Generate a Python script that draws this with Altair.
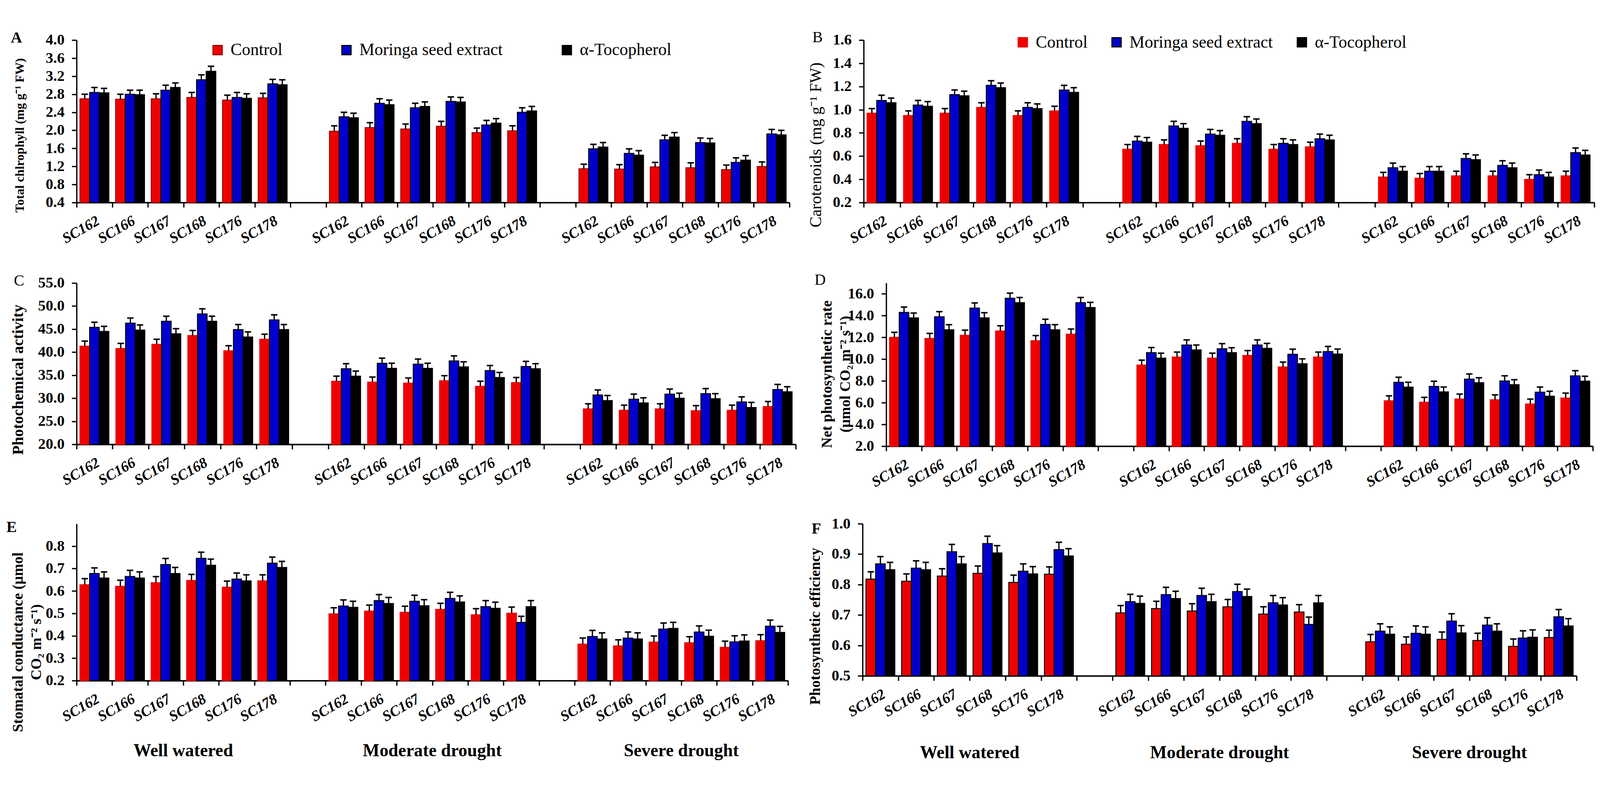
import altair as alt
import pandas as pd

FONT = "Liberation Serif"

genotypes = ["SC162", "SC166", "SC167", "SC168", "SC176", "SC178"]
conditions = ["Well watered", "Moderate drought", "Severe drought"]
treatments = ["Control", "Moringa seed extract", "α-Tocopherol"]
fills = ["#EE0000", "#0000CC", "#000000"]

# ---- Panel A: total chlorophyll (WW x6, MD x6, SD x6)
chl_control = [2.70, 2.69, 2.70, 2.73, 2.67, 2.72, 1.98, 2.06, 2.03, 2.09, 1.95, 1.99, 1.15, 1.14, 1.19, 1.17, 1.13, 1.20]
chl_moringa = [2.84, 2.80, 2.89, 3.12, 2.73, 3.03, 2.30, 2.60, 2.50, 2.64, 2.12, 2.40, 1.59, 1.49, 1.79, 1.73, 1.29, 1.92]
chl_toco = [2.83, 2.79, 2.95, 3.31, 2.71, 3.01, 2.28, 2.57, 2.53, 2.63, 2.16, 2.43, 1.63, 1.45, 1.85, 1.72, 1.34, 1.90]
chl_err_c = [0.10, 0.11, 0.11, 0.11, 0.11, 0.10, 0.12, 0.11, 0.11, 0.11, 0.10, 0.11, 0.10, 0.10, 0.10, 0.11, 0.10, 0.10]
chl_err_m = [0.11, 0.09, 0.11, 0.11, 0.11, 0.10, 0.10, 0.10, 0.10, 0.10, 0.10, 0.10, 0.10, 0.10, 0.10, 0.10, 0.10, 0.10]
chl_err_t = [0.10, 0.10, 0.10, 0.11, 0.10, 0.11, 0.10, 0.10, 0.10, 0.10, 0.10, 0.10, 0.10, 0.10, 0.10, 0.10, 0.10, 0.10]

# ---- Panel B: carotenoids
car_control = [0.97, 0.95, 0.97, 1.02, 0.95, 0.99, 0.66, 0.70, 0.69, 0.71, 0.66, 0.68, 0.42, 0.41, 0.43, 0.43, 0.40, 0.43]
car_moringa = [1.08, 1.04, 1.13, 1.21, 1.02, 1.17, 0.73, 0.86, 0.79, 0.90, 0.71, 0.75, 0.50, 0.47, 0.58, 0.52, 0.44, 0.63]
car_toco = [1.06, 1.03, 1.12, 1.19, 1.01, 1.15, 0.72, 0.84, 0.78, 0.88, 0.70, 0.74, 0.47, 0.47, 0.57, 0.50, 0.42, 0.61]
car_err_c = [0.04, 0.04, 0.04, 0.04, 0.04, 0.04, 0.04, 0.04, 0.04, 0.04, 0.04, 0.04, 0.04, 0.04, 0.04, 0.04, 0.04, 0.04]
car_err_m = [0.045, 0.04, 0.04, 0.04, 0.04, 0.04, 0.04, 0.04, 0.04, 0.04, 0.04, 0.04, 0.04, 0.04, 0.04, 0.04, 0.04, 0.04]
car_err_t = [0.04, 0.04, 0.04, 0.04, 0.04, 0.04, 0.04, 0.04, 0.04, 0.04, 0.04, 0.04, 0.04, 0.04, 0.04, 0.04, 0.04, 0.04]

# ---- Panel C: photochemical activity
pha_control = [41.3, 40.8, 41.7, 43.6, 40.3, 42.8, 33.7, 33.5, 33.3, 33.8, 32.6, 33.4, 27.7, 27.4, 27.7, 27.3, 27.4, 28.2]
pha_moringa = [45.4, 46.3, 46.7, 48.3, 44.9, 47.0, 36.4, 37.6, 37.4, 38.1, 36.0, 36.9, 30.7, 29.8, 30.9, 31.0, 29.2, 31.9]
pha_toco = [44.5, 44.8, 44.0, 46.7, 43.3, 44.9, 34.8, 36.5, 36.5, 36.8, 34.5, 36.4, 29.5, 29.0, 30.0, 29.9, 28.0, 31.4]
pha_err_c = [1.1, 1.1, 1.1, 1.1, 1.1, 1.1, 1.1, 1.1, 1.1, 1.1, 1.1, 1.1, 1.1, 1.1, 1.1, 1.1, 1.1, 1.1]
pha_err_m = [1.1, 1.1, 1.1, 1.1, 1.1, 1.1, 1.1, 1.1, 1.1, 1.1, 1.1, 1.1, 1.1, 1.1, 1.1, 1.1, 1.1, 1.1]
pha_err_t = [1.1, 1.1, 1.1, 1.1, 1.1, 1.1, 1.1, 1.1, 1.1, 1.1, 1.1, 1.1, 1.1, 1.1, 1.1, 1.1, 1.1, 1.1]

# ---- Panel D: net photosynthetic rate
pn_control = [12.0, 11.9, 12.2, 12.6, 11.7, 12.3, 9.46, 10.2, 10.1, 10.34, 9.28, 10.2, 6.18, 6.04, 6.34, 6.27, 5.88, 6.43]
pn_moringa = [14.3, 13.9, 14.7, 15.6, 13.2, 15.2, 10.6, 11.3, 10.96, 11.3, 10.45, 10.7, 7.87, 7.5, 8.17, 8.0, 6.97, 8.47]
pn_toco = [13.8, 12.7, 13.8, 15.2, 12.7, 14.75, 10.1, 10.85, 10.6, 11.0, 9.58, 10.48, 7.43, 6.99, 7.84, 7.66, 6.6, 7.98]
pn_err_c = [0.47, 0.47, 0.47, 0.47, 0.47, 0.47, 0.45, 0.45, 0.45, 0.45, 0.45, 0.45, 0.45, 0.45, 0.45, 0.45, 0.45, 0.45]
pn_err_m = [0.49, 0.47, 0.47, 0.47, 0.47, 0.47, 0.47, 0.47, 0.47, 0.47, 0.47, 0.47, 0.47, 0.47, 0.47, 0.47, 0.47, 0.47]
pn_err_t = [0.44, 0.47, 0.47, 0.47, 0.47, 0.47, 0.45, 0.45, 0.45, 0.45, 0.45, 0.45, 0.45, 0.45, 0.45, 0.45, 0.45, 0.45]

# ---- Panel E: stomatal conductance
gs_control = [0.628, 0.621, 0.637, 0.647, 0.617, 0.645, 0.498, 0.510, 0.505, 0.518, 0.494, 0.501, 0.363, 0.355, 0.372, 0.369, 0.349, 0.378]
gs_moringa = [0.678, 0.665, 0.718, 0.746, 0.653, 0.724, 0.533, 0.557, 0.554, 0.567, 0.530, 0.460, 0.397, 0.390, 0.430, 0.417, 0.373, 0.443]
gs_toco = [0.658, 0.658, 0.678, 0.715, 0.645, 0.705, 0.527, 0.544, 0.534, 0.551, 0.523, 0.530, 0.386, 0.386, 0.433, 0.398, 0.377, 0.415]
gs_err_c = [0.027, 0.027, 0.027, 0.027, 0.027, 0.027, 0.027, 0.027, 0.027, 0.027, 0.027, 0.027, 0.027, 0.027, 0.027, 0.027, 0.027, 0.027]
gs_err_m = [0.025, 0.027, 0.027, 0.027, 0.027, 0.027, 0.027, 0.027, 0.027, 0.027, 0.027, 0.027, 0.027, 0.027, 0.027, 0.027, 0.027, 0.027]
gs_err_t = [0.027, 0.027, 0.027, 0.027, 0.027, 0.027, 0.027, 0.027, 0.027, 0.027, 0.027, 0.027, 0.027, 0.027, 0.027, 0.027, 0.027, 0.027]

# ---- Panel F: photosynthetic efficiency
pe_control = [0.818, 0.811, 0.828, 0.837, 0.807, 0.834, 0.707, 0.721, 0.713, 0.727, 0.703, 0.710, 0.612, 0.604, 0.620, 0.616, 0.597, 0.626]
pe_moringa = [0.868, 0.854, 0.908, 0.935, 0.844, 0.915, 0.744, 0.767, 0.764, 0.777, 0.740, 0.669, 0.647, 0.640, 0.680, 0.667, 0.624, 0.694]
pe_toco = [0.849, 0.849, 0.868, 0.904, 0.835, 0.894, 0.738, 0.754, 0.744, 0.761, 0.733, 0.740, 0.637, 0.637, 0.641, 0.647, 0.627, 0.664]
pe_err_c = [0.024, 0.024, 0.024, 0.024, 0.024, 0.024, 0.024, 0.024, 0.024, 0.024, 0.024, 0.024, 0.024, 0.024, 0.024, 0.024, 0.024, 0.024]
pe_err_m = [0.024, 0.024, 0.024, 0.024, 0.024, 0.024, 0.024, 0.024, 0.024, 0.024, 0.024, 0.024, 0.024, 0.024, 0.024, 0.024, 0.024, 0.024]
pe_err_t = [0.024, 0.024, 0.024, 0.024, 0.024, 0.024, 0.024, 0.024, 0.024, 0.024, 0.024, 0.024, 0.024, 0.024, 0.024, 0.024, 0.024, 0.024]

# Band slots: genotype names made distinct per condition with trailing spaces
# (invisible), plus one empty slot between conditions.
slots = []
for ci in range(3):
    for g in genotypes:
        slots.append(g + " " * ci)
    if ci < 2:
        slots.append(" " * (ci + 4))
group_slots = [genotypes[3] + " " * ci for ci in range(3)]


def frame(vals3, errs3):
    rows = []
    for tname, vals, errs in zip(treatments, vals3, errs3):
        for i, (v, e) in enumerate(zip(vals, errs)):
            rows.append({"slot": genotypes[i % 6] + " " * (i // 6),
                         "treatment": tname, "value": v, "top": v + e})
    return pd.DataFrame(rows)


def panel(df, letter, ytitle, lo, hi, ticks, width, height, red_stroke,
          letter_x, letter_y, letter_bold, title_size, title_bold, title_x, title_y,
          legend_xy=None, legend_gap=150, groups_y=None):
    xscale = alt.Scale(domain=slots, paddingInner=0, paddingOuter=0)
    xaxis = alt.Axis(title=None, tickBand="extent", labelAngle=330, labelAlign="right",
                     labelBaseline="top", labelFont=FONT, labelFontSize=40, labelFontWeight="bold",
                     labelFontStyle="italic", labelPadding=16, labelOverlap=False,
                     domainWidth=4, domainColor="black", tickWidth=3.5, tickSize=13, tickColor="black",
                     labelColor="black")
    xenc = alt.X("slot:N", sort=slots, scale=xscale, axis=xaxis)
    xoff = alt.XOffset("treatment:N", sort=treatments,
                       scale=alt.Scale(domain=treatments, paddingInner=0, paddingOuter=0.35))
    yscale = alt.Scale(domain=[lo, hi], zero=False, nice=False)
    yaxis = alt.Axis(values=ticks, format=".1f", title=None, labelFont=FONT, labelFontSize=41,
                     labelFontWeight="bold", labelColor="black", labelPadding=20, domainWidth=3.5,
                     domainColor="black", tickWidth=3.5, tickSize=13, tickColor="black", grid=False)
    if legend_xy is not None:
        leg = alt.Legend(orient="none", legendX=legend_xy[0], legendY=legend_xy[1], direction="horizontal",
                         title=None, symbolType="square", symbolSize=625, symbolStrokeWidth=3,
                         labelFont=FONT, labelFontSize=46, labelColor="black", labelLimit=0,
                         columnPadding=legend_gap, labelOffset=12)
    else:
        leg = None
    color = alt.Color("treatment:N", sort=treatments, scale=alt.Scale(domain=treatments, range=fills), legend=leg)
    stroke = alt.Stroke("treatment:N", sort=treatments,
                        scale=alt.Scale(domain=treatments, range=[red_stroke, "black", "black"]), legend=leg)

    bars = alt.Chart(df).mark_bar(strokeWidth=2.5).encode(
        x=xenc, xOffset=xoff, y=alt.Y("value:Q", scale=yscale, axis=yaxis), y2=alt.datum(lo),
        color=color, stroke=stroke)
    rules = alt.Chart(df).mark_rule(color="black", strokeWidth=3.5).encode(
        x=xenc, xOffset=xoff, y=alt.Y("value:Q", scale=yscale, axis=yaxis), y2="top:Q")
    caps = alt.Chart(df).mark_point(shape="M-1,0L1,0", size=300, strokeWidth=4, color="black",
                                    opacity=1).encode(
        x=xenc, xOffset=xoff, y=alt.Y("top:Q", scale=yscale, axis=yaxis))
    lettr = alt.Chart(pd.DataFrame({"t": [letter]})).mark_text(
        align="left", baseline="middle", font=FONT, fontSize=42,
        fontWeight="bold" if letter_bold else "normal", color="black").encode(
        text="t:N", x=alt.value(letter_x), y=alt.value(letter_y))
    ytitle_mark = alt.Chart(pd.DataFrame({"t": ["\n".join(ytitle)]})).mark_text(
        align="center", baseline="middle", angle=270, lineBreak="\n", lineHeight=title_size * 1.25,
        font=FONT, fontSize=title_size, fontWeight="bold" if title_bold else "normal", color="black").encode(
        text="t:N", x=alt.value(title_x), y=alt.value(title_y))
    layers = [bars, rules, caps, lettr, ytitle_mark]
    if groups_y is not None:
        gdf = pd.DataFrame({"slot": group_slots, "label": conditions})
        band = width / len(slots)
        gl = alt.Chart(gdf).mark_text(align="center", baseline="middle", font=FONT, fontSize=48,
                                      fontWeight="bold", color="black", dx=-band / 2).encode(
            x=xenc, y=alt.value(groups_y), text="label:N")
        layers.append(gl)
    return alt.layer(*layers).properties(width=width, height=height)


pA = panel(frame([chl_control, chl_moringa, chl_toco], [chl_err_c, chl_err_m, chl_err_t]),
           "A", ["Total chlrophyll (mg g⁻¹ FW)"], 0.4, 4.0, [0.4 * i for i in range(1, 11)],
           1931, 440, "#990000", -178, -6, True, 34, True, -153, 258, legend_xy=(359, 4), legend_gap=150)
pB = panel(frame([car_control, car_moringa, car_toco], [car_err_c, car_err_m, car_err_t]),
           "B", ["Carotenoids (mg g⁻¹ FW)"], 0.2, 1.6, [0.2 * i for i in range(1, 9)],
           1979, 440, "#EE0000", -139, -7, False, 44, False, -128, 284, legend_xy=(408, -17), legend_gap=55)
pC = panel(frame([pha_control, pha_moringa, pha_toco], [pha_err_c, pha_err_m, pha_err_t]),
           "C", ["Photochemical activity"], 20, 55, [20 + 5 * i for i in range(8)],
           1948, 437, "#EE0000", -170, -6, False, 42, True, -158, 262)
pD = panel(frame([pn_control, pn_moringa, pn_toco], [pn_err_c, pn_err_m, pn_err_t]),
           "D", ["Net photosynthetic rate", "(μmol CO₂ m⁻² s⁻¹)"], 2, 17, [2 * i for i in range(1, 9)],
           1914, 442, "#EE0000", -194, -8, False, 40, True, -160, 247)
pE = panel(frame([gs_control, gs_moringa, gs_toco], [gs_err_c, gs_err_m, gs_err_t]),
           "E", ["Stomatal conductance (μmol", "CO₂ m⁻² s⁻¹)"], 0.2, 0.9, [0.2 + 0.1 * i for i in range(8)],
           1927, 425, "#EE0000", -190, 10, True, 40, True, -158, 321, groups_y=616)
pF = panel(frame([pe_control, pe_moringa, pe_toco], [pe_err_c, pe_err_m, pe_err_t]),
           "F", ["Photosynthetic efficiency"], 0.5, 1.0, [0.5 + 0.1 * i for i in range(6)],
           1934, 412, "black", -138, 14, True, 40, True, -128, 278, groups_y=621)

row1 = alt.hconcat(pA, pB, spacing=49).resolve_scale(color="independent", stroke="independent").resolve_legend(
    color="independent", stroke="independent")
row2 = alt.hconcat(pC, pD, spacing=49).resolve_scale(color="independent", stroke="independent").resolve_legend(
    color="independent", stroke="independent")
row3 = alt.hconcat(pE, pF, spacing=52).resolve_scale(color="independent", stroke="independent").resolve_legend(
    color="independent", stroke="independent")

chart = alt.vconcat(row1, row2, row3, spacing=70).resolve_scale(
    color="independent", stroke="independent").resolve_legend(color="independent", stroke="independent").properties(
    padding={"left": 9, "top": 14, "right": 5, "bottom": 5}
).configure(font=FONT).configure_view(stroke=None).configure_axis(
    labelFont=FONT, titleFont=FONT
).configure_legend(labelFont=FONT, labelLimit=0).configure_text(font=FONT)

chart.save("out.html", embed_options={"renderer": "svg", "actions": False})
